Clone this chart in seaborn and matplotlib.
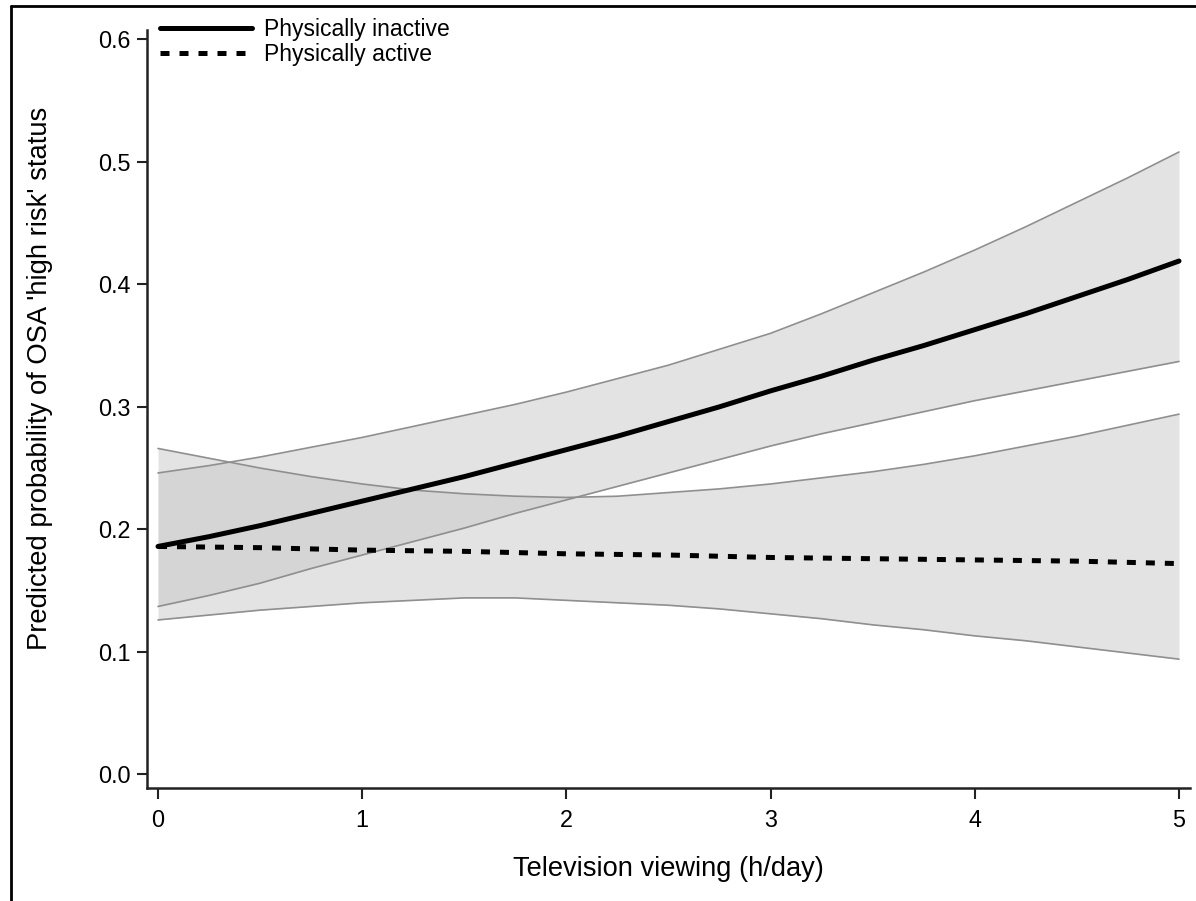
import matplotlib
matplotlib.use("Agg")
import matplotlib.pyplot as plt
from matplotlib.lines import Line2D
from matplotlib.ticker import FormatStrFormatter
import seaborn as sns
import pandas as pd

# ---- data ----
tv_hours = [0, 0.25, 0.5, 0.75, 1, 1.25, 1.5, 1.75, 2, 2.25, 2.5,
            2.75, 3, 3.25, 3.5, 3.75, 4, 4.25, 4.5, 4.75, 5]

inactive_pred = [0.186, 0.194, 0.203, 0.213, 0.223, 0.233, 0.243, 0.254, 0.265, 0.276, 0.288,
                 0.300, 0.313, 0.325, 0.338, 0.350, 0.363, 0.376, 0.390, 0.404, 0.419]
inactive_upper = [0.246, 0.252, 0.259, 0.267, 0.275, 0.284, 0.293, 0.302, 0.312, 0.323, 0.334,
                  0.347, 0.360, 0.376, 0.393, 0.410, 0.428, 0.447, 0.467, 0.487, 0.508]
inactive_lower = [0.137, 0.146, 0.156, 0.168, 0.179, 0.190, 0.201, 0.213, 0.224, 0.235, 0.246,
                  0.257, 0.268, 0.278, 0.287, 0.296, 0.305, 0.313, 0.321, 0.329, 0.337]

active_pred = [0.186, 0.1855, 0.185, 0.184, 0.183, 0.1825, 0.182, 0.181, 0.180, 0.1795, 0.179,
               0.178, 0.177, 0.1765, 0.176, 0.1755, 0.175, 0.1745, 0.174, 0.173, 0.172]
active_upper = [0.266, 0.258, 0.250, 0.243, 0.237, 0.232, 0.229, 0.227, 0.226, 0.227, 0.230,
                0.233, 0.237, 0.242, 0.247, 0.253, 0.260, 0.268, 0.276, 0.285, 0.294]
active_lower = [0.126, 0.130, 0.134, 0.137, 0.140, 0.142, 0.144, 0.144, 0.142, 0.140, 0.138,
                0.135, 0.131, 0.127, 0.122, 0.118, 0.113, 0.109, 0.104, 0.099, 0.094]

group_labels = ["Physically inactive", "Physically active"]
x_ticks = [0, 1, 2, 3, 4, 5]
y_ticks = [0.0, 0.1, 0.2, 0.3, 0.4, 0.5, 0.6]
x_label = "Television viewing (h/day)"
y_label = "Predicted probability of OSA 'high risk' status"

# ---- style ----
sns.set_style("ticks")
plt.rcParams["font.family"] = ["Liberation Sans", "DejaVu Sans"]
plt.rcParams["text.color"] = "black"
plt.rcParams["xtick.labelcolor"] = "black"
plt.rcParams["ytick.labelcolor"] = "black"

W, H = 1196, 901
fig = plt.figure(figsize=(W / 100, H / 100), dpi=100)
ax = fig.add_axes([147 / W, (H - 788) / H, (1190 - 147) / W, (788 - 30) / H])

df_in = pd.DataFrame({"x": tv_hours, "y": inactive_pred})
df_ac = pd.DataFrame({"x": tv_hours, "y": active_pred})

band_face = (200 / 255, 200 / 255, 200 / 255)
edge_col = "#8f8f8f"

for lo, hi in [(inactive_lower, inactive_upper), (active_lower, active_upper)]:
    ax.fill_between(tv_hours, lo, hi, color=band_face, alpha=0.5, lw=0, zorder=1)
    ax.plot(tv_hours, lo, color=edge_col, lw=1.2, zorder=2)
    ax.plot(tv_hours, hi, color=edge_col, lw=1.2, zorder=2)

sns.lineplot(data=df_in, x="x", y="y", ax=ax, color="black", lw=3.6,
             label=group_labels[0], zorder=4)
sns.lineplot(data=df_ac, x="x", y="y", ax=ax, color="black", lw=3.6,
             linestyle=(0, (1.8, 2.0)), label=group_labels[1], zorder=4)

ax.set_xlim(-11 / 204.2, 5 + 11 / 204.2)
ax.set_ylim(-(788 - 774.3) / 1225, 0.6 + (39.3 - 30) / 1225)
ax.set_xticks(x_ticks)
ax.set_yticks(y_ticks)
ax.yaxis.set_major_formatter(FormatStrFormatter("%.1f"))
ax.set_xlabel("")
ax.set_ylabel("")

sns.despine(ax=ax)
for s in ["left", "bottom"]:
    ax.spines[s].set_linewidth(1.8)
    ax.spines[s].set_color("#222222")
ax.tick_params(axis="y", length=7, width=1.5, color="#222222", labelcolor="black",
               labelsize=16.8, pad=5)
ax.tick_params(axis="x", length=8, width=1.5, color="#222222", labelcolor="black",
               labelsize=16.8, pad=7)

leg = ax.legend(loc="upper left", bbox_to_anchor=(160 / W, 1 - 18 / H),
                bbox_transform=fig.transFigure, frameon=False, fontsize=16.5,
                handlelength=4.0, handletextpad=0.55, labelspacing=0.1,
                borderpad=0, borderaxespad=0)
for t in leg.get_texts():
    t.set_color("black")

fig.text(668.5 / W, 1 - 876 / H, x_label, ha="center", va="baseline", fontsize=19.6,
         color="black")
fig.text(40 / W, 1 - 378 / H, y_label, ha="center", va="center", rotation=90,
         fontsize=19.7, color="black")

# outer frame (top and left edges visible in reference)
fig.add_artist(Line2D([11 / W, 1], [1 - 5.5 / H, 1 - 5.5 / H], transform=fig.transFigure,
                      color="black", lw=2.0))
fig.add_artist(Line2D([11 / W, 11 / W], [0, 1 - 5.5 / H], transform=fig.transFigure,
                      color="black", lw=2.0))

fig.savefig("out.png", dpi=100)
